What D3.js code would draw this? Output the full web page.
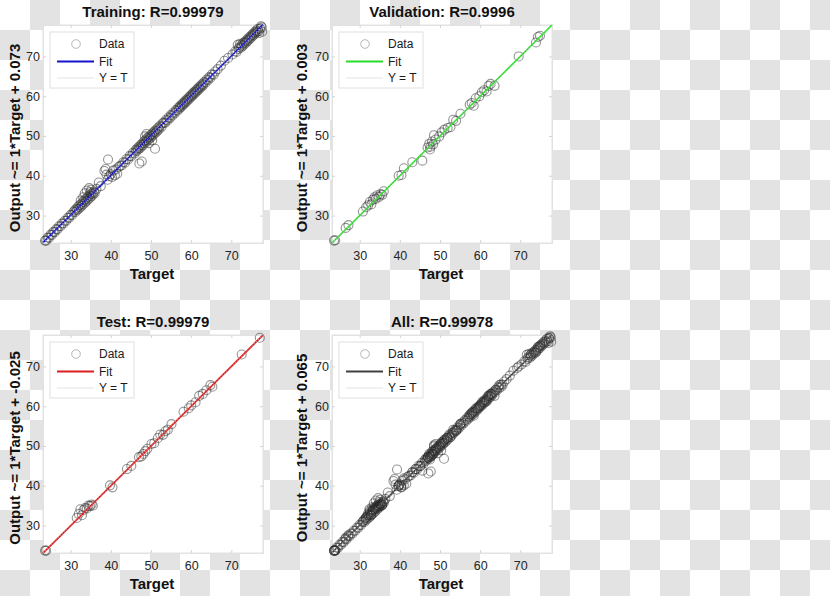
<!DOCTYPE html>
<html>
<head>
<meta charset="utf-8">
<script src="https://cdn.jsdelivr.net/npm/d3@7"></script>
<style>
  html, body { margin: 0; padding: 0; background: #fff; }
  svg { display: block; font-family: "Liberation Sans", Arial, Helvetica, sans-serif; }
</style>
</head>
<body>
<svg id="chart" width="830" height="596"></svg>
<script>
// ---------- data: [target, output] ----------
const tickValues = [30, 40, 50, 60, 70];
const axisDomain = [23.1, 77.9];

const trainData = [
  [23.6,23.7],[23.9,23.7],[24.3,24.5],[24.6,24.4],[25.0,25.2],[25.3,25.1],[25.7,25.9],[26.0,25.8],[26.4,26.6],[26.7,26.5],
  [27.1,27.3],[27.5,27.3],[27.8,28.0],[28.2,28.0],[28.5,28.7],[28.9,28.7],[29.3,29.5],[29.6,29.4],[30.0,30.2],[30.3,30.1],[30.7,30.9],
  [31.0,31.3],[31.2,30.9],[31.4,31.7],[31.6,31.4],[31.8,32.2],[32.0,31.7],[32.2,32.6],[32.4,32.1],[32.6,32.9],[32.8,32.5],
  [33.0,33.4],[33.2,32.9],[33.4,33.8],[33.6,33.3],[33.8,34.2],[34.0,33.7],[34.2,34.6],[34.4,34.1],[34.6,35.0],[34.8,34.5],
  [35.0,35.4],[35.2,34.9],[35.4,35.6],[35.6,35.3],[35.8,36.0],[36.0,35.7],[33.5,35.6],[34.0,36.3],[34.6,36.9],[35.1,36.5],
  [33.1,34.6],[32.5,33.8],[34.9,35.9],
  [36.4,36.7],[37.0,38.3],[37.5,37.4],
  [38.4,41.2],[38.7,41.7],[39.3,44.1],[38.9,40.3],[39.2,39.0],[39.6,39.9],[40.0,40.4],[40.3,39.7],[40.6,41.3],[41.0,40.1],
  [41.3,41.6],[41.6,40.5],[41.9,42.2],
  [42.3,42.5],[42.7,42.6],[43.1,43.4],[43.5,43.3],[43.9,44.2],[44.3,44.1],[44.7,45.0],[45.1,44.9],[45.5,45.8],[45.9,45.6],
  [46.2,46.5],[46.4,46.2],[46.6,46.9],[46.8,46.6],[47.0,47.3],[47.2,46.9],[47.4,47.7],[47.6,47.3],[47.8,48.1],[48.0,47.7],
  [48.2,48.6],[48.4,48.1],[48.6,48.9],[48.8,48.5],[49.0,49.4],[49.2,48.9],[49.4,49.7],[49.6,49.3],[49.8,50.1],[50.0,49.7],
  [50.2,50.5],[50.4,50.1],[50.6,50.9],[50.8,50.5],[51.0,51.3],[51.2,50.9],[51.4,51.7],[51.6,51.3],[51.8,52.1],[52.0,51.7],
  [52.3,52.6],[52.6,52.3],[52.9,53.2],
  [47.1,43.1],[47.7,43.6],[51.0,46.8],[48.9,50.5],[48.5,49.9],[49.5,48.2],[50.3,48.9],
  [53.2,53.4],[53.5,53.3],[53.8,54.1],[54.1,53.9],[54.4,54.7],[54.7,54.5],[55.0,55.3],[55.3,55.1],[55.6,55.9],[55.9,55.7],
  [56.2,56.5],[56.5,56.3],[56.8,57.1],
  [57.0,56.8],[57.2,57.5],[57.4,57.2],[57.6,57.9],[57.8,57.6],[58.0,58.3],[58.2,58.0],[58.4,58.7],[58.6,58.4],[58.8,59.1],
  [59.0,58.8],[59.2,59.5],[59.4,59.2],[59.6,59.9],[59.8,59.6],[60.0,60.3],[60.2,60.0],[60.4,60.7],[60.6,60.4],[60.8,61.1],
  [61.0,60.8],[61.2,61.5],[61.4,61.2],[61.6,61.9],[61.8,61.6],[62.0,62.3],[62.2,62.0],[62.4,62.7],[62.6,62.4],[62.8,63.1],
  [63.0,62.8],[63.3,63.6],[63.6,63.4],[63.9,64.2],[64.2,64.0],[64.5,64.8],[64.8,64.6],[65.2,65.5],[65.6,65.4],[66.0,66.2],
  [66.6,66.8],[67.4,67.7],[68.3,68.9],[69.2,69.6],[70.3,70.5],
  [71.0,71.3],[71.3,71.1],[71.6,72.9],[71.8,71.9],[72.0,72.3],[72.2,73.2],[72.4,72.2],[72.6,72.9],[72.8,72.6],[73.0,73.4],
  [73.2,73.0],[73.4,73.7],[73.6,73.4],[73.8,74.1],[74.0,73.8],[74.2,74.5],[74.4,74.2],[74.6,74.9],[74.8,74.6],[75.0,75.3],
  [75.2,75.0],[75.4,75.7],[75.6,75.4],[75.8,76.1],[76.0,75.8],[76.2,76.5],[76.4,76.2],[76.6,76.9],[76.8,76.3],[77.0,75.9],
  [77.2,77.0],[77.4,77.6],[77.6,77.3],[77.7,76.2]
];

const valData = [
  [23.6,23.7],[23.9,23.8],[26.5,26.9],[27.2,27.6],[30.8,31.0],[31.6,32.1],[32.1,32.6],[32.5,33.4],[32.9,32.8],[33.3,34.0],
  [33.7,34.6],[34.0,34.2],[34.4,35.1],[34.8,34.7],[35.2,35.4],[35.6,35.2],[36.0,36.1],[39.7,40.0],[40.4,40.2],[41.0,41.9],
  [43.1,43.4],[45.6,43.8],[46.9,47.1],[47.3,48.0],[47.6,47.3],[48.0,48.6],[48.3,47.9],[48.5,50.2],[48.9,49.1],[47.5,46.6],
  [49.8,49.9],[50.4,50.9],[51.1,51.6],[51.9,52.0],[52.6,52.2],[53.3,54.1],[54.0,53.8],[55.1,55.6],[57.4,57.9],[57.9,58.3],
  [58.4,57.6],[58.9,59.5],[59.8,60.0],[60.4,61.0],[61.0,61.5],[61.6,61.2],[62.1,62.6],[62.6,63.1],[63.6,62.6],[69.6,70.0],
  [73.9,73.5],[74.4,74.9],[74.9,75.2]
];

const testData = [
  [23.6,23.7],[23.9,23.7],[31.5,31.9],[32.0,32.9],[32.4,34.1],[32.8,32.6],[33.2,33.9],[33.6,34.4],[34.0,34.3],[34.4,35.0],
  [34.8,34.9],[35.2,35.3],[35.5,35.0],[39.8,40.1],[40.4,39.6],[44.0,44.2],[45.1,45.0],[47.0,47.2],[47.6,47.4],[48.1,48.0],
  [48.6,48.7],[49.1,49.3],[50.1,50.5],[50.8,50.7],[51.7,52.0],[52.3,52.9],[53.0,52.8],[53.6,53.7],[54.2,54.1],[55.1,55.5],
  [58.1,58.6],[59.4,59.5],[60.0,60.2],[61.1,61.0],[62.0,62.6],[62.9,63.1],[63.8,64.0],[64.8,65.3],[65.3,64.9],[72.6,73.0],
  [77.1,77.2]
];

const panelTitles = ["Training: R=0.99979", "Validation: R=0.9996", "Test: R=0.99979", "All: R=0.99978"];
const fitSlopes = [1, 1, 1, 1];
const fitOffsets = [0.073, 0.003, -0.025, 0.065];
const fitColors = ["#1414c8", "#28dc28", "#dc1e1e", "#404040"];
const legendLabels = ["Data", "Fit", "Y = T"];

// ---------- layout ----------
const svg = d3.select("#chart");
const defs = svg.append("defs");
const pat = defs.append("pattern").attr("id", "checker")
  .attr("width", 60).attr("height", 60).attr("patternUnits", "userSpaceOnUse");
pat.append("rect").attr("width", 60).attr("height", 60).attr("fill", "#ffffff");
pat.append("rect").attr("x", 30).attr("y", 0).attr("width", 30).attr("height", 30).attr("fill", "#e3e3e3");
pat.append("rect").attr("x", 0).attr("y", 30).attr("width", 30).attr("height", 30).attr("fill", "#e3e3e3");
svg.append("rect").attr("width", 830).attr("height", 596).attr("fill", "url(#checker)");
defs.append("filter").attr("id", "soft").append("feGaussianBlur").attr("stdDeviation", 0.5);

const panels = [
  { left: 43, top: 25, data: trainData, ylx: 15 },
  { left: 332, top: 25, data: valData, ylx: 302 },
  { left: 43, top: 335, data: testData, ylx: 15 },
  { left: 332, top: 335, data: trainData.concat(valData, testData), ylx: 302 }
];
const W = 220, H = 218;

panels.forEach((p, i) => {
  const x = d3.scaleLinear().domain(axisDomain).range([p.left, p.left + W]);
  const y = d3.scaleLinear().domain(axisDomain).range([p.top + H, p.top]);
  const g = svg.append("g");

  g.append("rect").attr("x", p.left).attr("y", p.top).attr("width", W).attr("height", H)
    .attr("fill", "#ffffff").attr("stroke", "#e2e2e2").attr("stroke-width", 1);

  // axes
  g.append("g").attr("transform", `translate(0,${p.top + H})`)
    .call(d3.axisBottom(x).tickValues(tickValues).tickSize(-3).tickPadding(8));
  g.append("g").attr("transform", `translate(${p.left},0)`)
    .call(d3.axisLeft(y).tickValues(tickValues).tickSize(-3).tickPadding(3));
  g.append("g").attr("transform", `translate(0,${p.top})`)
    .call(d3.axisTop(x).tickValues(tickValues).tickSize(-3).tickFormat(""));
  g.append("g").attr("transform", `translate(${p.left + W},0)`)
    .call(d3.axisRight(y).tickValues(tickValues).tickSize(-3).tickFormat(""));
  g.selectAll(".domain").attr("stroke", "#e2e2e2");
  g.selectAll(".tick line").attr("stroke", "#d4d4d4");
  g.selectAll(".tick text").attr("font-size", 12.5).attr("fill", "#262626")
    .attr("font-family", "'Liberation Sans', Arial, sans-serif");

  const plot = g.append("g");
  // data circles
  plot.append("g").attr("filter", "url(#soft)")
    .selectAll("circle").data(p.data).join("circle")
    .attr("cx", d => x(d[0])).attr("cy", d => y(d[1])).attr("r", 4.5)
    .attr("fill", "none").attr("stroke", "#2a2a2a").attr("stroke-opacity", 0.5).attr("stroke-width", 1.1);
  // fit line
  const line = d3.line().x(d => x(d)).y(d => y(fitSlopes[i] * d + fitOffsets[i]));
  plot.append("path").datum(axisDomain).attr("d", line)
    .attr("stroke", fitColors[i]).attr("stroke-width", 1.7).attr("fill", "none");
  // Y = T
  const idLine = d3.line().x(d => x(d)).y(d => y(d));
  plot.append("path").datum(axisDomain).attr("d", idLine)
    .attr("stroke", "#c8c8c8").attr("stroke-width", 0.8).attr("stroke-dasharray", "1,2").attr("fill", "none");

  // title
  g.append("text").attr("x", p.left + W / 2).attr("y", p.top - 8)
    .attr("text-anchor", "middle").attr("font-weight", "bold").attr("font-size", 15)
    .attr("fill", "#111").text(panelTitles[i]);
  // x label
  g.append("text").attr("x", p.left + W / 2 - 1).attr("y", p.top + H + 36)
    .attr("text-anchor", "middle").attr("font-weight", "bold").attr("font-size", 15)
    .attr("fill", "#111").text("Target");
  // y label
  const off = fitOffsets[i].toFixed(3);
  g.append("text").attr("transform", `translate(${p.ylx + 5},${p.top + H / 2 + 4}) rotate(-90)`)
    .attr("text-anchor", "middle").attr("font-weight", "bold").attr("font-size", 15)
    .attr("fill", "#111").text(`Output ~= ${fitSlopes[i]}*Target + ${off}`);

  // legend
  const lx = p.left + 7, ly = p.top + 7;
  const lg = g.append("g");
  lg.append("rect").attr("x", lx).attr("y", ly).attr("width", 84).attr("height", 56)
    .attr("fill", "#fff").attr("stroke", "#e0e0e0");
  const rows = [ly + 12, ly + 29.5, ly + 46];
  lg.append("circle").attr("cx", lx + 26).attr("cy", rows[0]).attr("r", 4.3)
    .attr("fill", "none").attr("stroke", "#303030").attr("stroke-opacity", 0.35).attr("filter", "url(#soft)");
  lg.append("line").attr("x1", lx + 7).attr("x2", lx + 44).attr("y1", rows[1]).attr("y2", rows[1])
    .attr("stroke", fitColors[i]).attr("stroke-width", 1.8);
  lg.append("line").attr("x1", lx + 7).attr("x2", lx + 44).attr("y1", rows[2]).attr("y2", rows[2])
    .attr("stroke", "#dcdcdc").attr("stroke-width", 0.8);
  legendLabels.forEach((lab, k) => {
    lg.append("text").attr("x", lx + 49).attr("y", rows[k] + 4.3).attr("font-size", 12)
      .attr("fill", "#1a1a1a").text(lab);
  });
});
</script>
</body>
</html>
